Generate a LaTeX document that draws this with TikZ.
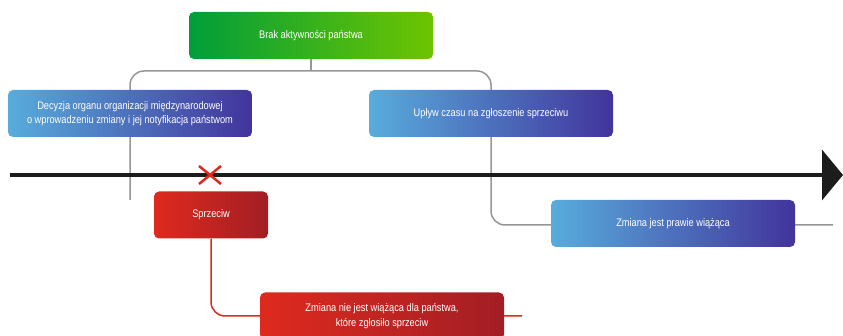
\documentclass[tikz,border=0pt]{standalone}
\usepackage{fontspec}
\setmainfont[FakeStretch=0.84]{Liberation Sans}
\usetikzlibrary{arrows.meta,backgrounds}
\definecolor{zielonyA}{RGB}{0,158,58}
\definecolor{zielonyB}{RGB}{110,196,0}
\definecolor{niebieskiA}{RGB}{88,172,220}
\definecolor{niebieskiB}{RGB}{66,52,156}
\definecolor{czerwonyA}{RGB}{222,42,30}
\definecolor{czerwonyB}{RGB}{162,30,36}
\definecolor{szary}{RGB}{150,150,150}
\definecolor{os}{RGB}{28,28,28}
\begin{document}
\begin{tikzpicture}[x=1pt,y=1pt,
    pole/.style={rounded corners=5pt,minimum height=47pt,text=white,align=center,
        font=\fontsize{11}{14.5}\selectfont,inner sep=0pt},
    zielone/.style={pole,minimum width=244pt,left color=zielonyA,right color=zielonyB},
    niebieskie/.style={pole,minimum width=244pt,left color=niebieskiA,right color=niebieskiB},
    czerwone/.style={pole,left color=czerwonyA,right color=czerwonyB},
    linia/.style={szary,line width=1.5pt,rounded corners=14pt},
    liniaczerw/.style={czerwonyA,line width=1.5pt,rounded corners=14pt}]
    \useasboundingbox (0,0) rectangle (843,-336);
    \node[zielone] (brak) at (311,-35.5) {Brak aktywności państwa};
    \node[niebieskie] (decyzja) at (130,-113.5) {Decyzja organu organizacji międzynarodowej\\o wprowadzeniu zmiany i jej notyfikacja państwom};
    \node[niebieskie] (uplyw) at (491,-113.5) {Upływ czasu na zgłoszenie sprzeciwu};
    \node[czerwone,minimum width=114pt] (sprzeciw) at (211,-215) {Sprzeciw};
    \node[niebieskie] (prawie) at (673,-223.5) {Zmiana jest prawie wiążąca};
    \node[czerwone,minimum width=244pt] (nie) at (382,-316) {Zmiana nie jest wiążąca dla państwa,\\które zgłosiło sprzeciw};
    \coordinate (rozwidlenie) at (311,-71);
    \coordinate (lewykoniec) at (130,-200);
    \coordinate (prawykoniec) at (833,-225);
    \coordinate (czerwkoniec) at (522,-316);
    \coordinate (ospocz) at (10,-175);
    \coordinate (oskon) at (843,-175);
    \begin{pgfonlayer}{background}
        \draw[linia] (brak.south) -- (rozwidlenie);
        \draw[linia] (lewykoniec) |- (rozwidlenie) -| (uplyw.center) |- (prawykoniec);
        \draw[liniaczerw] (sprzeciw.south) |- (czerwkoniec);
    \end{pgfonlayer}
    \draw[os,line width=4pt,-{Triangle[length=21pt,width=50pt]}] (ospocz) -- (oskon);
    \draw[czerwonyA,line width=2.5pt] (199,-166) -- (221,-184) (199,-184) -- (221,-166);
\end{tikzpicture}
\end{document}
